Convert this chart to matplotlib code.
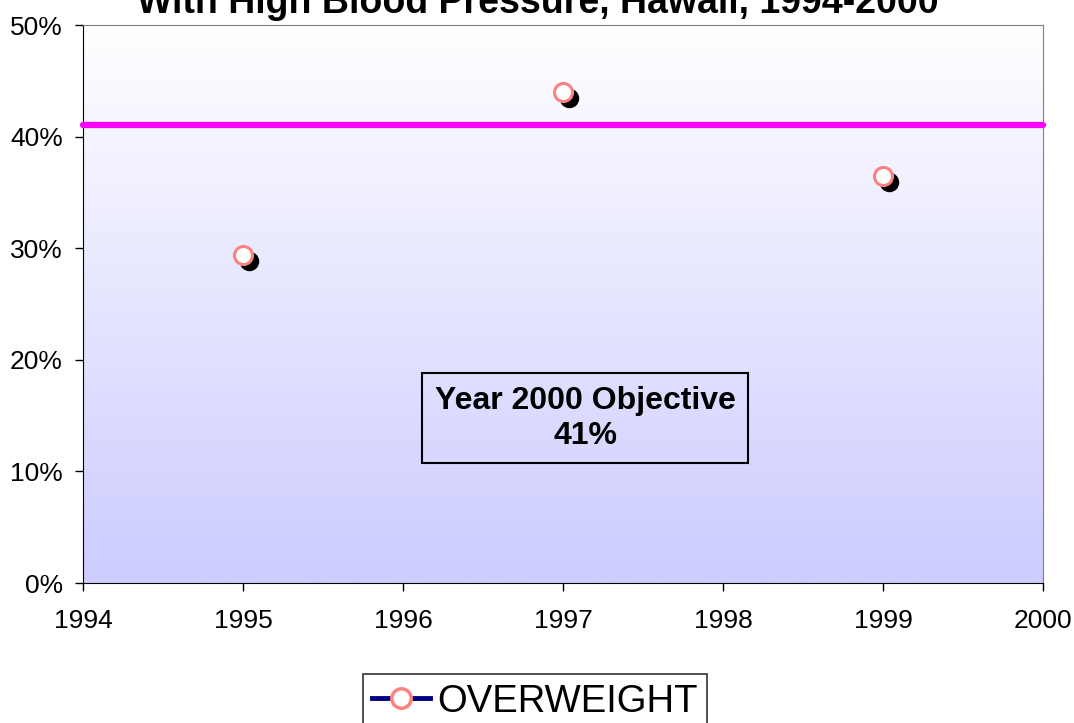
# Hawaii high blood pressure chart

import numpy as np
import matplotlib.pyplot as plt
from matplotlib.lines import Line2D
import matplotlib.transforms as mtransforms

plt.rcParams['font.family'] = ['Liberation Sans', 'DejaVu Sans']

# data
years = [1995, 1997, 1999]
overweight = [29.4, 44.0, 36.5]
objective = 41
x_ticks = [1994, 1995, 1996, 1997, 1998, 1999, 2000]
y_ticks = [0, 10, 20, 30, 40, 50]

fig = plt.figure(figsize=(10.74, 7.23), dpi=100)
ax = fig.add_axes([0.0773, 0.1936, 0.8938, 0.7718])

# gradient background, white at top to lavender at bottom
grad = np.linspace(0, 1, 256).reshape(-1, 1)
top = np.array([1.0, 1.0, 1.0])
bot = np.array([0.80, 0.80, 1.0])
img = top + (bot - top) * grad[:, :, None] * np.ones((1, 1, 3))
ax.imshow(img, extent=[1994, 2000, 0, 50], origin='upper', aspect='auto', zorder=0)

ax.set_xlim(1994, 2000)
ax.set_ylim(0, 50)

# objective line
ax.plot([1994, 2000], [objective, objective], color='#FF00FF', lw=4.5,
        solid_capstyle='round', clip_on=False, zorder=3)

# shadow then markers
shadow = mtransforms.offset_copy(ax.transData, fig=fig, x=4.5, y=-4.5, units='points')
ax.plot(years, overweight, 'o', ms=13, color='black', transform=shadow, zorder=4)
ax.plot(years, overweight, 'o', ms=13, mfc='white', mec='#FF8080', mew=2.2, zorder=5)

ax.set_xticks(x_ticks)
ax.set_yticks(y_ticks)
ax.set_yticklabels([f'{v}%' for v in y_ticks])
ax.tick_params(axis='both', direction='out', length=5.5, width=1, labelsize=19)
ax.tick_params(axis='x', pad=13)
ax.tick_params(axis='y', pad=9)
for s in ['top', 'right']:
    ax.spines[s].set_color('#808080')
for s in ['left', 'bottom']:
    ax.spines[s].set_color('black')

ax.text(0.523, 0.295, 'Year 2000 Objective\n41%', transform=ax.transAxes,
        ha='center', va='center', fontsize=23, fontweight='bold', linespacing=1.2,
        bbox=dict(boxstyle='square,pad=0.4', fc='none', ec='black', lw=1.5), zorder=6)

fig.text(0.501, 1 - 13 / 723, 'With High Blood Pressure, Hawaii, 1994-2000',
         ha='center', va='baseline', fontsize=27, fontweight='bold')

handle = Line2D([], [], color='#000080', lw=3.5, marker='o', ms=14,
                mfc='white', mec='#FF8080', mew=2.5)
leg = fig.legend([handle], ['OVERWEIGHT'], loc='upper center',
                 bbox_to_anchor=(535 / 1074, 1 - 674 / 723), fontsize=27.5,
                 frameon=True, fancybox=False, edgecolor='black', handlelength=1.5,
                 handletextpad=0.2, borderpad=0.25, borderaxespad=0)
leg.get_frame().set_linewidth(1.2)

plt.savefig('out.png', dpi=100)
